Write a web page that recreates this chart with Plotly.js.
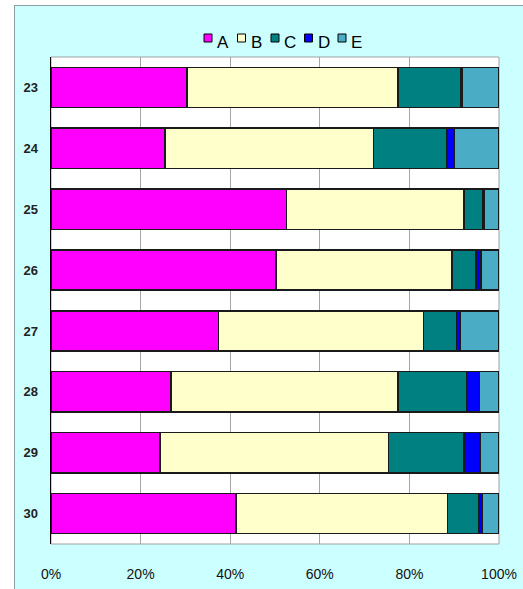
<!DOCTYPE html>
<html>
<head>
<meta charset="utf-8">
<script src="https://cdn.plot.ly/plotly-3.0.1.min.js"></script>
<style>
html, body { margin:0; padding:0; width:523px; height:589px; overflow:hidden; background:#ffffff; }
#frame { position:absolute; left:14px; top:5px; border-left:1px solid #8C9FA6; border-top:1px solid #8C9FA6; background:#CCFFFF; width:520px; height:600px; }
#chart { width:520px; height:600px; }
</style>
</head>
<body>
<div id="frame"><div id="chart"></div></div>
<script>
// Categories (top to bottom)
const categories = ["23", "24", "25", "26", "27", "28", "29", "30"];
// Series names and colours
const seriesNames = ["A", "B", "C", "D", "E"];
const seriesColors = ["#FF00FF", "#FFFFCC", "#008080", "#0000FF", "#4BACC6"];
// Series values (percent share)
const valuesA = [30.4, 25.4, 52.6, 50.2, 37.4, 26.8, 24.3, 41.3];
const valuesB = [47.0, 46.6, 39.6, 39.3, 45.7, 50.6, 51.0, 47.2];
const valuesC = [14.0, 16.4, 4.2, 5.4, 7.4, 15.3, 16.9, 7.0];
const valuesD = [0.5, 1.7, 0.3, 1.1, 0.8, 2.9, 3.6, 0.7];
const valuesE = [8.1, 9.9, 3.3, 4.0, 8.7, 4.4, 4.2, 3.8];
// Tick labels
const xTickVals = [0, 20, 40, 60, 80, 100];
const xTickText = ["0%", "20%", "40%", "60%", "80%", "100%"];

const allValues = [valuesA, valuesB, valuesC, valuesD, valuesE];

const traces = allValues.map((vals, i) => ({
  type: "bar",
  orientation: "h",
  name: seriesNames[i],
  y: categories,
  x: vals,
  marker: { color: seriesColors[i], line: { color: "#1a1a1a", width: 1.5 } },
  showlegend: false,
  hoverinfo: "x+name"
}));

// plot area geometry (pixels inside the chart div)
const M = { l: 36, r: 36, t: 51, b: 62 };
const W = 520, H = 600;
const pw = W - M.l - M.r, ph = H - M.t - M.b;
// page px -> paper helpers (div origin at page x=15,y=6)
const px2paperX = px => (px - 15 - M.l) / pw;
const px2paperY = py => 1 - (py - 6 - M.t) / ph;

const shapes = [{
  type: "rect", xref: "paper", yref: "paper", x0: 0, x1: 1, y0: 0, y1: 1,
  line: { color: "#A0A0A0", width: 1 }, layer: "below"
}];
const annotations = [];
seriesNames.forEach((nm, i) => {
  const cx = 208 + i * 33.5;
  shapes.push({
    type: "rect", xref: "paper", yref: "paper",
    x0: px2paperX(cx - 4), x1: px2paperX(cx + 4),
    y0: px2paperY(42), y1: px2paperY(34),
    fillcolor: seriesColors[i], line: { color: "#000000", width: 1 }
  });
  annotations.push({
    xref: "paper", yref: "paper", x: px2paperX(cx + 7), y: px2paperY(42.5),
    xanchor: "left", yanchor: "middle", showarrow: false, text: nm,
    font: { family: "Liberation Sans, Arial, sans-serif", size: 17, color: "#000000" }
  });
});

const layout = {
  width: W, height: H,
  margin: M,
  paper_bgcolor: "#CCFFFF",
  plot_bgcolor: "#FFFFFF",
  barmode: "stack",
  bargap: 0.34,
  showlegend: false,
  xaxis: {
    range: [0, 100],
    tickvals: xTickVals, ticktext: xTickText,
    showgrid: true, gridcolor: "#A6A6A6", gridwidth: 1,
    zeroline: false, showline: false,
    ticks: "outside", ticklen: 17, tickcolor: "rgba(0,0,0,0)",
    tickfont: { family: "Liberation Sans, Arial, sans-serif", size: 14, color: "#111111" },
    fixedrange: true
  },
  yaxis: {
    type: "category",
    categoryorder: "array", categoryarray: categories,
    autorange: "reversed",
    showgrid: false, zeroline: false,
    showline: true, linecolor: "#000000", linewidth: 1.5,
    ticks: "outside", ticklen: 9, tickcolor: "rgba(0,0,0,0)",
    tickfont: { family: "Liberation Sans, Arial, sans-serif", size: 13, color: "#222222", weight: "bold" },
    fixedrange: true
  },
  shapes: shapes,
  annotations: annotations
};

Plotly.newPlot("chart", traces, layout, { displayModeBar: false, staticPlot: true });
</script>
</body>
</html>
